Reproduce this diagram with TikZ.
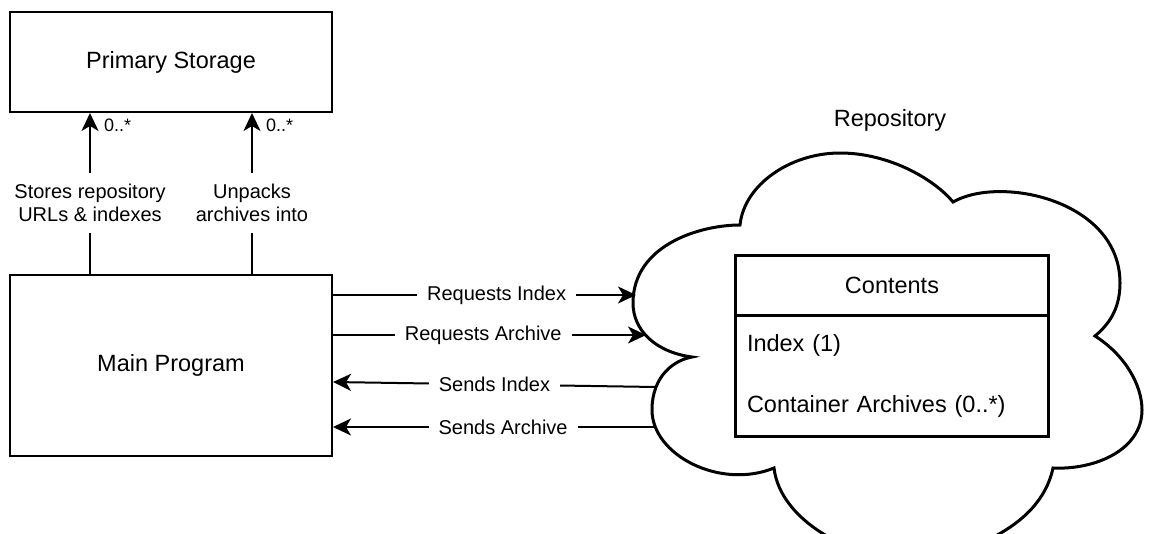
\documentclass[tikz,border=0pt]{standalone}
\usepackage{fontspec}
\setmainfont{Liberation Sans}
\usetikzlibrary{arrows.meta}
\begin{document}
\begin{tikzpicture}[x=1pt,y=-1pt]
\tikzstyle{every node}+=[inner sep=0pt]
\tikzstyle{big}=[font=\fontsize{23.5}{28}\selectfont]
\tikzstyle{block}=[big, draw, line width=2pt, minimum width=322pt]
\tikzstyle{msg}=[font=\fontsize{20}{23}\selectfont, fill=white, inner xsep=10pt, inner ysep=2pt]
\tikzstyle{mult}=[font=\fontsize{18}{20}\selectfont, anchor=north west, xshift=13pt, yshift=-5pt]
\tikzstyle{wire}=[line width=2pt]
\tikzstyle{flow}=[wire, -{Stealth[length=18pt,width=17pt,inset=5pt]}]
\tikzstyle{heavy}=[draw, line width=3pt, outer sep=0pt, minimum width=313pt]
\useasboundingbox (0,0) rectangle (1159,533);
\node[block, minimum height=100pt] (storage) at (171,62) {Primary Storage};
\node[block, minimum height=181pt] (main) at (171,365.5) {Main Program};
\node[msg, fill=none, align=center, minimum height=60pt] (stores) at (90,203) {Stores repository\\URLs \& indexes};
\node[msg, fill=none, align=center, minimum height=60pt] (unpacks) at (252,203) {Unpacks\\archives into};
\draw[flow] (stores.north) -- (storage.south -| stores) node[mult] {0..*};
\draw[wire] (main.north -| stores) -- (stores.south);
\draw[flow] (unpacks.north) -- (storage.south -| unpacks) node[mult] {0..*};
\draw[wire] (main.north -| unpacks) -- (unpacks.south);
\draw[line width=3pt] (740,225) .. controls (744,185) and (790,153) .. (840,153)
 .. controls (890,153) and (935,180) .. (953,202)
 .. controls (1000,175) and (1120,200) .. (1120,283)
 .. controls (1120,310) and (1108,325) .. (1095,336)
 .. controls (1125,355) and (1142,385) .. (1142,410)
 .. controls (1142,450) and (1095,470) .. (1053,468)
 .. controls (1040,530) and (960,558) .. (905,558)
 .. controls (850,558) and (780,520) .. (774,468)
 .. controls (720,490) and (652,455) .. (652,410)
 .. controls (652,375) and (675,360) .. (692,357)
 .. controls (655,352) and (633,330) .. (633,303)
 .. controls (633,245) and (700,225) .. cycle;
\node[big] (repo) at (890,120) {Repository};
\coordinate (ri) at (636,295);
\coordinate (ra) at (646,335);
\coordinate (si) at (656,387);
\coordinate (sa) at (654,427);
\draw[flow] (main.east |- ri) -- node[msg, pos=0.54] {Requests Index} (ri);
\draw[flow] (main.east |- ra) -- node[msg, pos=0.48] {Requests Archive} (ra);
\draw[flow] (si) -- node[msg, pos=0.5] {Sends Index} ([yshift=5pt]main.east |- si);
\draw[flow] (sa) -- node[msg, pos=0.47] {Sends Archive} (main.east |- sa);
\node[heavy, big, minimum height=60pt] (chead) at (892,285.5) {Contents};
\node[heavy, anchor=north, minimum height=121pt, text width=290pt, align=left, font=\fontsize{23.5}{61}\selectfont] (cbody) at (chead.south) {Index (1)\\Container Archives (0..*)};
\end{tikzpicture}
\end{document}
